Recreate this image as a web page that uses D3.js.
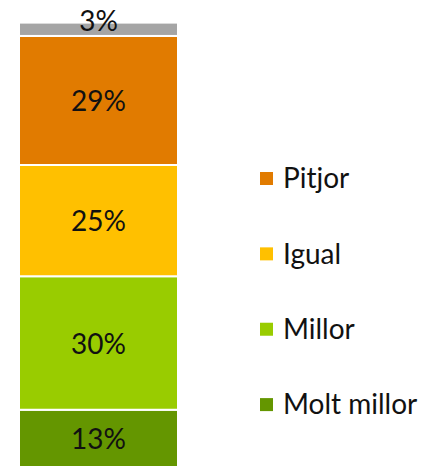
<!DOCTYPE html>
<html>
<head>
<meta charset="utf-8">
<script src="https://cdn.jsdelivr.net/npm/d3@7"></script>
<style>
  body { margin: 0; background: #fff; }
  text { font-family: "Lato", "Liberation Sans", sans-serif; fill: #111; }
</style>
</head>
<body>
<div id="chart"></div>
<script>
// series from bottom to top of the stacked bar
var categories = ["Molt millor", "Millor", "Igual", "Pitjor", "NS/NC"];
var values = [13, 30, 25, 29, 3];
var colors = ["#649600", "#99CC00", "#FFC000", "#E17B00", "#A5A5A5"];
var legendItems = ["Pitjor", "Igual", "Millor", "Molt millor"];

var width = 431, height = 466;

var svg = d3.select("#chart").append("svg")
    .attr("width", width)
    .attr("height", height);

var row = {};
categories.forEach(function(c, i) { row[c] = values[i]; });

var stack = d3.stack().keys(categories);
var series = stack([row]);

var x = d3.scaleBand()
    .domain(["all"])
    .range([19, 178])
    .padding(0);

var y = d3.scaleLinear()
    .domain([0, 100])
    .range([467.6, 22.6]);

var color = d3.scaleOrdinal().domain(categories).range(colors);

var seg = svg.selectAll(".seg")
    .data(series)
  .enter().append("g")
    .attr("class", "seg");

seg.append("rect")
    .attr("x", x("all"))
    .attr("width", x.bandwidth())
    .attr("y", function(d) { return y(d[0][1]); })
    .attr("height", function(d) { return y(d[0][0]) - y(d[0][1]); })
    .attr("fill", function(d) { return color(d.key); })
    .attr("stroke", "#fff")
    .attr("stroke-width", 2);

seg.append("text")
    .attr("x", x("all") + x.bandwidth() / 2)
    .attr("y", function(d) {
      var top = y(d[0][1]), bot = y(d[0][0]);
      // small segment: label pushed up like excel does
      if (bot - top < 20) return bot - 15;
      return (top + bot) / 2 + 1;
    })
    .attr("dy", "0.35em")
    .attr("text-anchor", "middle")
    .style("font-size", "28px")
    .text(function(d) { return d[0].data[d.key] + "%"; });

// legend
var ly = d3.scalePoint()
    .domain(legendItems)
    .range([178.5, 404.6]);

var legend = svg.selectAll(".legend")
    .data(legendItems)
  .enter().append("g")
    .attr("class", "legend")
    .attr("transform", function(d) { return "translate(260," + ly(d) + ")"; });

legend.append("rect")
    .attr("x", 0)
    .attr("y", -6.5)
    .attr("width", 13)
    .attr("height", 13)
    .attr("fill", function(d) { return color(d); });

legend.append("text")
    .attr("x", 23)
    .attr("y", 0)
    .attr("dy", "0.35em")
    .style("font-size", "28px")
    .text(function(d) { return d; });
</script>
</body>
</html>
